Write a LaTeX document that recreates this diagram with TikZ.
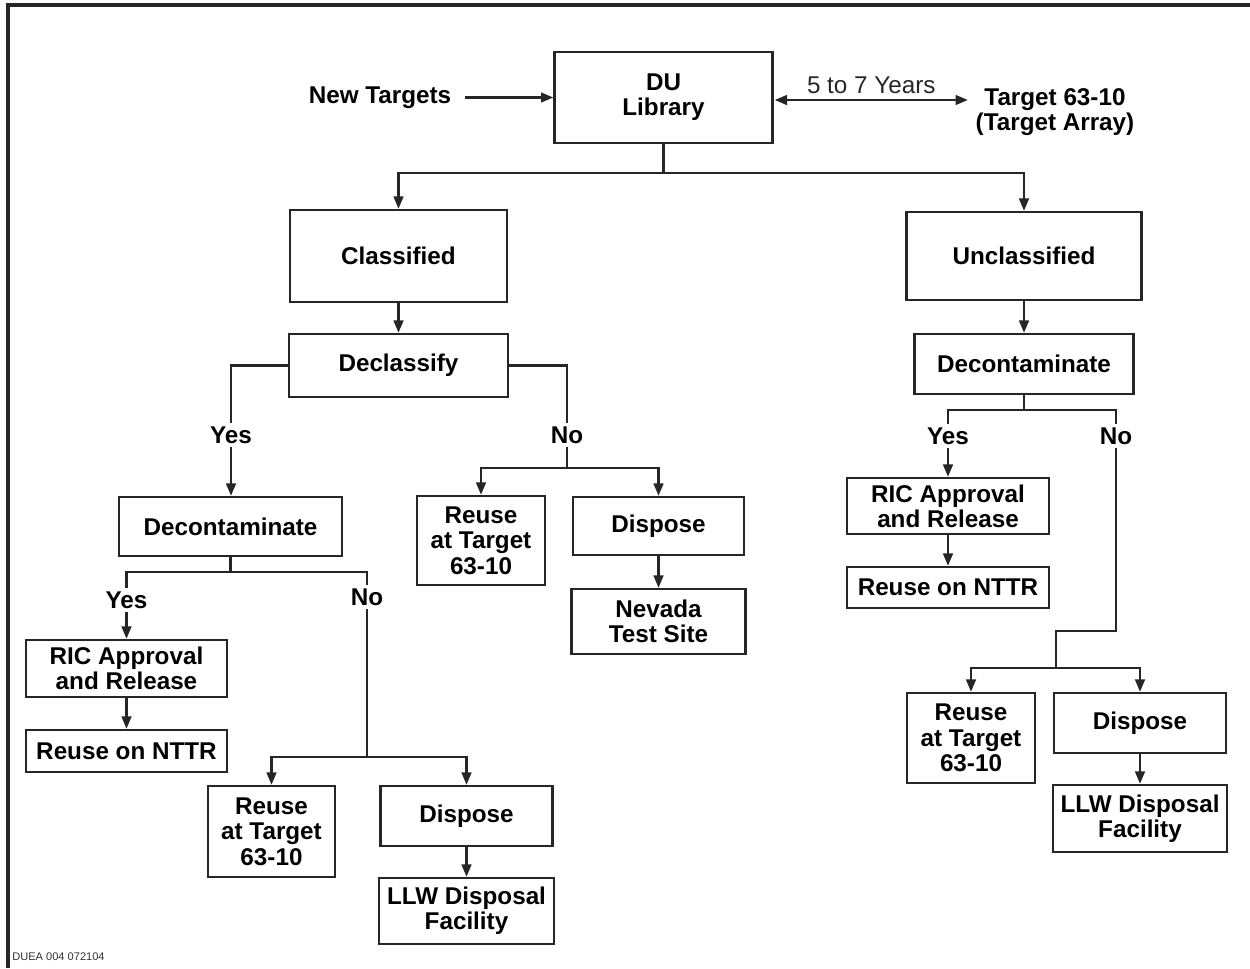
\documentclass[tikz,border=0pt]{standalone}
\usepackage{fontspec}
\setmainfont{Liberation Sans}
\usetikzlibrary{positioning,calc,arrows.meta}

\begin{document}
\begin{tikzpicture}[
        x=0.02cm, y=-0.02cm,
        box/.style={rectangle, draw=black!85, line width=1.4pt, inner sep=0pt, align=center, font=\fontsize{13.8}{14.4}\selectfont\bfseries},
        lbl/.style={inner sep=2pt, align=center, font=\fontsize{13.8}{14.4}\selectfont\bfseries},
        line/.style={line width=1.3pt, color=black!85},
        tip/.style={-{Triangle[length=7pt, width=5.5pt]}},
        arrow/.style={line, tip}
    ]
    \useasboundingbox (0,0) rectangle (1250,968);
    \draw[line width=1.8pt, black!85] (8,968) -- (8,5) -- (1250,5);

    % top row
    \node[box, minimum width=4.36cm, minimum height=1.82cm] (dulib) at (663.5,97.5) {DU\\Library};
    \node[lbl] (newtgt) at (380,98) {New Targets};
    \node[lbl] (tgtarray) at (1055,112) {Target 63-10\\(Target Array)};

    % first split
    \node[box, minimum width=4.34cm, minimum height=1.84cm] (classified) at (398.5,256) {Classified};
    \node[box, minimum width=4.70cm, minimum height=1.76cm] (unclass) at (1024,256) {Unclassified};
    \coordinate (split0) at (663.5,173);

    % classified branch
    \node[box, minimum width=4.38cm, minimum height=1.26cm] (declass) at (398.5,365.5) {Declassify};
    \node[lbl] (yesA) at (231,435) {Yes};
    \node[lbl] (noA) at (567,435) {No};
    \coordinate (splitA) at (567,468);
    \node[box, minimum width=2.56cm, minimum height=1.78cm] (reuseA) at (481,540.5) {Reuse\\at Target\\63-10};
    \node[box, minimum width=3.42cm, minimum height=1.16cm] (disposeA) at (658.5,526) {Dispose};
    \node[box, minimum width=3.48cm, minimum height=1.30cm] (nevada) at (658.5,621.5) {Nevada\\Test Site};

    \node[box, minimum width=4.46cm, minimum height=1.18cm] (deconA) at (230.5,526.5) {Decontaminate};
    \coordinate (splitB) at (230.5,572);
    \node[lbl] (yesB) at (126.5,600) {Yes};
    \node[lbl] (noB) at (367,597) {No};
    \node[box, minimum width=4.02cm, minimum height=1.14cm] (ricA) at (126.5,668.5) {RIC Approval\\and Release};
    \node[box, minimum width=4.02cm, minimum height=0.84cm] (nttrA) at (126.5,751) {Reuse on NTTR};
    \coordinate (splitC) at (367,757);
    \node[box, minimum width=2.54cm, minimum height=1.82cm] (reuseB) at (271.5,831.5) {Reuse\\at Target\\63-10};
    \node[box, minimum width=3.44cm, minimum height=1.20cm] (disposeB) at (466.5,816) {Dispose};
    \node[box, minimum width=3.50cm, minimum height=1.32cm] (llwA) at (466.5,911) {LLW Disposal\\Facility};

    % unclassified branch
    \node[box, minimum width=4.38cm, minimum height=1.20cm] (deconB) at (1024,364) {Decontaminate};
    \coordinate (splitD) at (1024,410);
    \node[lbl] (yesC) at (948,436) {Yes};
    \node[lbl] (noC) at (1116,436) {No};
    \node[box, minimum width=4.04cm, minimum height=1.12cm] (ricB) at (948,506) {RIC Approval\\and Release};
    \node[box, minimum width=4.04cm, minimum height=0.82cm] (nttrB) at (948,587.5) {Reuse on NTTR};
    \coordinate (bendE) at (1056,631);
    \coordinate (splitE) at (1056,668);
    \node[box, minimum width=2.56cm, minimum height=1.80cm] (reuseC) at (971,738) {Reuse\\at Target\\63-10};
    \node[box, minimum width=3.44cm, minimum height=1.20cm] (disposeC) at (1140,723) {Dispose};
    \node[box, minimum width=3.48cm, minimum height=1.34cm] (llwB) at (1140,818.5) {LLW Disposal\\Facility};

    \node[anchor=west, inner sep=0pt, font=\fontsize{6.3}{7}\selectfont, text=black!80] (code) at (12,957) {DUEA 004 072104};

    % connectors
    \draw[arrow] ($(newtgt.east |- dulib.west)+(10,0)$) -- (dulib.west);
    \draw[line, {Triangle[length=7pt, width=5.5pt]}-{Triangle[length=7pt, width=5.5pt]}] ($(dulib.east)+(1,2.5)$) -- ($(dulib.east -| tgtarray.west)+(-4,2.5)$) node[midway, above, inner sep=3pt, font=\fontsize{13.8}{14.4}\selectfont] {5 to 7 Years};
    \draw[line] (dulib.south) -- (split0);
    \draw[arrow] (split0) -| (classified.north);
    \draw[arrow] (split0) -| (unclass.north);

    \draw[arrow] (classified.south) -- (declass.north);
    \draw[line] (declass.west) -| (yesA.north);
    \draw[arrow] (yesA.south) -- (deconA.north -| yesA.south);
    \draw[line] (declass.east) -| (noA.north);
    \draw[line] (noA.south) -- (splitA);
    \draw[arrow] (splitA) -| (reuseA.north);
    \draw[arrow] (splitA) -| (disposeA.north);
    \draw[arrow] (disposeA.south) -- (nevada.north);

    \draw[line] (deconA.south) -- (splitB);
    \draw[line] (splitB) -| (yesB.north);
    \draw[arrow] (yesB.south) -- (ricA.north);
    \draw[arrow] (ricA.south) -- (nttrA.north);
    \draw[line] (splitB) -| (noB.north);
    \draw[line] (noB.south) -- (splitC);
    \draw[arrow] (splitC) -| (reuseB.north);
    \draw[arrow] (splitC) -| (disposeB.north);
    \draw[arrow] (disposeB.south) -- (llwA.north);

    \draw[arrow] (unclass.south) -- (deconB.north);
    \draw[line] (deconB.south) -- (splitD);
    \draw[line] (splitD) -| (yesC.north);
    \draw[arrow] (yesC.south) -- (ricB.north);
    \draw[arrow] (ricB.south) -- (nttrB.north);
    \draw[line] (splitD) -| (noC.north);
    \draw[line] (noC.south) |- (bendE) -- (splitE);
    \draw[arrow] (splitE) -| (reuseC.north);
    \draw[arrow] (splitE) -| (disposeC.north);
    \draw[arrow] (disposeC.south) -- (llwB.north);

\end{tikzpicture}
\end{document}
